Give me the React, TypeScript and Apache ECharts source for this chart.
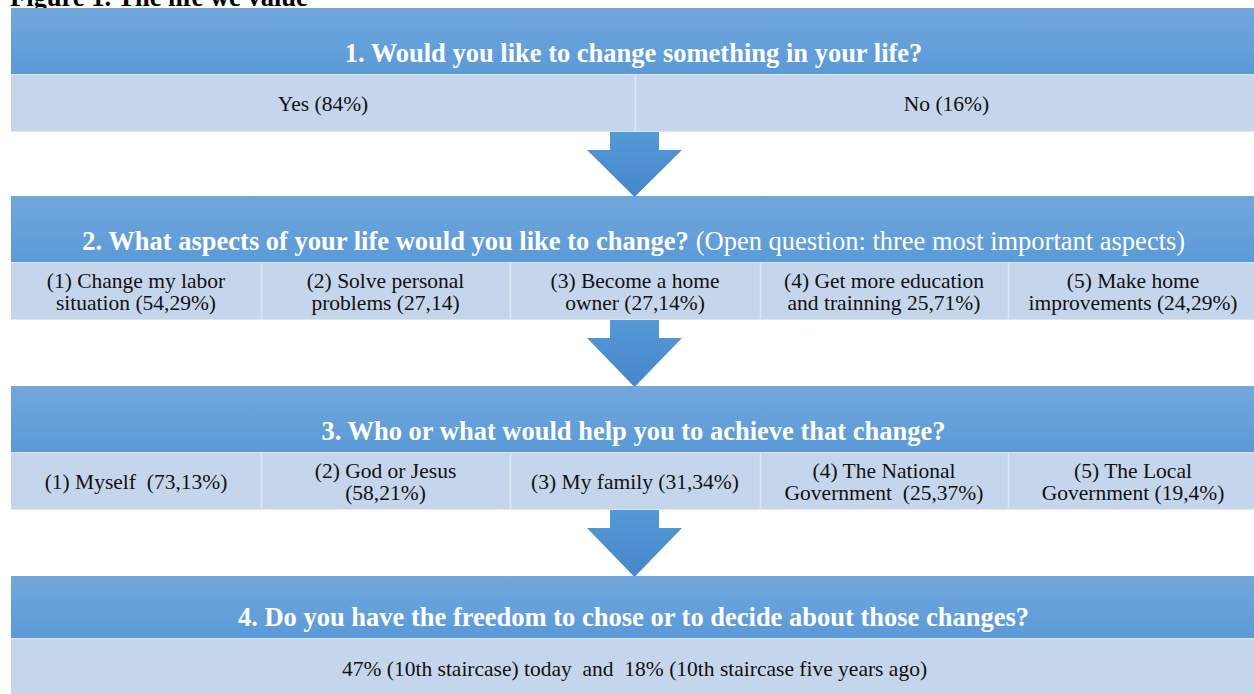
import React, { useEffect, useRef } from "react";
import * as echarts from "echarts";

const figureTitle = "Figure 1. The life we value";

const questionsBold = [
  "1. Would you like to change something in your life?",
  "2. What aspects of your life would you like to change?",
  "3. Who or what would help you to achieve that change?",
  "4. Do you have the freedom to chose or to decide about those changes?",
];
const questionsNote = ["", " (Open question: three most important aspects)", "", ""];

const answers1 = ["Yes (84%)", "No (16%)"];
const answers2 = [
  "(1) Change my labor\nsituation (54,29%)",
  "(2) Solve personal\nproblems (27,14)",
  "(3) Become a home\nowner (27,14%)",
  "(4) Get more education\nand trainning 25,71%)",
  "(5) Make home\nimprovements (24,29%)",
];
const answers3 = [
  "(1) Myself  (73,13%)",
  "(2) God or Jesus\n(58,21%)",
  "(3) My family (31,34%)",
  "(4) The National\nGovernment  (25,37%)",
  "(5) The Local\nGovernment (19,4%)",
];
const answers4 = ["47% (10th staircase) today  and  18% (10th staircase five years ago)"];

const answerRows = [answers1, answers2, answers3, answers4];

export default function App() {
  const ref = useRef<HTMLDivElement>(null);
  useEffect(() => {
    document.body.style.margin = "0";
    const chart = echarts.init(ref.current!, null, { renderer: "svg" });
    const boxX = 11;
    const boxR = 1258;
    const headerTops = [8, 196, 386, 576];
    const headerH = [66, 66, 66, 62];
    const rowH = [58, 58, 58, 60];
    const colDividers5 = [11, 261, 510, 760, 1008, 1258];
    const fam = "Liberation Serif";
    const els: any[] = [];

    els.push({
      type: "text",
      x: 10,
      y: 10,
      style: {
        text: figureTitle,
        fontFamily: fam,
        fontSize: 26.5,
        fontWeight: "bold",
        fill: "#000",
        verticalAlign: "bottom",
      },
    });

    const headerGrad = {
      type: "linear",
      x: 0,
      y: 0,
      x2: 0,
      y2: 1,
      colorStops: [
        { offset: 0, color: "#72A7DC" },
        { offset: 1, color: "#5A9AD8" },
      ],
    };
    const arrowGrad = {
      type: "linear",
      x: 0,
      y: 0,
      x2: 0,
      y2: 1,
      colorStops: [
        { offset: 0, color: "#5599D6" },
        { offset: 1, color: "#4686CB" },
      ],
    };

    headerTops.forEach((top, i) => {
      const hh = headerH[i];
      els.push({
        type: "rect",
        shape: { x: boxX, y: top, width: boxR - boxX, height: hh },
        style: { fill: headerGrad },
      });
      const bold = questionsBold[i];
      const note = questionsNote[i];
      els.push({
        type: "text",
        x: (boxX + boxR) / 2 - 1,
        y: top + hh - 21,
        style: {
          text: note ? `{b|${bold}}{n|${note}}` : `{b|${bold}}`,
          align: "center",
          verticalAlign: "middle",
          rich: {
            b: { fontFamily: fam, fontSize: 26.5, fontWeight: "bold", fill: "#fff" },
            n: { fontFamily: fam, fontSize: 26.5, fontWeight: "normal", fill: "#fff" },
          },
        },
      });
      const rowTop = top + hh;
      const rh = rowH[i];
      const answers = answerRows[i];
      let dividers: number[];
      if (answers.length === 5) dividers = colDividers5;
      else if (answers.length === 2) dividers = [boxX, 635, boxR];
      else dividers = [boxX, boxR];
      els.push({
        type: "rect",
        shape: { x: boxX, y: rowTop, width: boxR - boxX, height: rh },
        style: { fill: "#C5D6EC" },
      });
      els.push({
        type: "line",
        shape: { x1: boxX, y1: rowTop + 0.5, x2: boxR, y2: rowTop + 0.5 },
        style: { stroke: "#DDE7F3", lineWidth: 1 },
      });
      for (let k = 1; k < dividers.length - 1; k++) {
        els.push({
          type: "line",
          shape: { x1: dividers[k] + 0.5, y1: rowTop, x2: dividers[k] + 0.5, y2: rowTop + rh },
          style: { stroke: "#DDE7F3", lineWidth: 1.5 },
        });
      }
      if (i < 3) {
        els.push({
          type: "line",
          shape: { x1: boxX, y1: rowTop + rh - 0.5, x2: boxR, y2: rowTop + rh - 0.5 },
          style: { stroke: "#DDE7F3", lineWidth: 1 },
        });
      }
      answers.forEach((a, k) => {
        els.push({
          type: "text",
          x: (dividers[k] + dividers[k + 1]) / 2,
          y: rowTop + rh / 2 + 1,
          style: {
            text: a,
            fontFamily: fam,
            fontSize: 21.5,
            fill: "#111",
            align: "center",
            verticalAlign: "middle",
            lineHeight: 22,
          },
        });
      });
      if (i < 3) {
        const aTop = rowTop + rh;
        const tip = headerTops[i + 1];
        const cx = 634.5;
        const headStart = aTop + 18;
        els.push({
          type: "polygon",
          shape: {
            points: [
              [cx - 24.5, aTop],
              [cx + 24.5, aTop],
              [cx + 24.5, headStart],
              [cx + 47.5, headStart],
              [cx, tip + 1],
              [cx - 47.5, headStart],
              [cx - 24.5, headStart],
            ],
          },
          style: { fill: arrowGrad },
        });
      }
    });

    chart.setOption({
      animation: false,
      graphic: { elements: els },
    });
    return () => chart.dispose();
  }, []);
  return <div ref={ref} style={{ width: 1254, height: 694, overflow: "hidden" }} />;
}
